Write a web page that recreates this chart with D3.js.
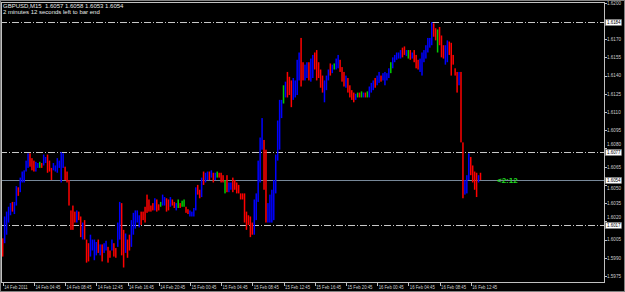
<!DOCTYPE html>
<html><head><meta charset="utf-8">
<script src="https://cdn.jsdelivr.net/npm/d3@7/dist/d3.min.js"></script>
<style>html,body{margin:0;padding:0;background:#000;}svg{display:block;}</style>
</head><body><svg id="c" width="625" height="292"></svg>
<script>
const symbolTitle = "GBPUSD,M15  1.6057 1.6058 1.6053 1.6054";
const timerTitle = "2 minutes 12 seconds left to bar end";
const timerLabel = "<2:12";
const highs = [
1.6006,1.6024,1.6028,1.6032,1.6035,1.6036,1.6036,1.6049,1.6048,1.6056,
1.6061,1.6062,1.6070,1.6076,1.6076,1.6072,1.6070,1.6069,1.6068,1.6069,
1.6068,1.6075,1.6073,1.6075,1.6070,1.6064,1.6068,1.6066,1.6072,1.6070,
1.6077,1.6076,1.6065,1.6061,1.6054,1.6029,1.6033,1.6028,1.6029,1.6028,
1.6024,1.6019,1.6021,1.6005,1.6002,1.6009,1.6005,1.6005,1.6003,1.6005,
1.6001,1.6001,1.6002,1.6004,1.5999,1.5996,1.6005,1.6002,1.5998,1.6019,
1.6036,1.6035,1.6013,1.6010,1.6005,1.6009,1.6021,1.6027,1.6029,1.6029,
1.6025,1.6028,1.6028,1.6032,1.6042,1.6038,1.6033,1.6035,1.6039,1.6038,
1.6034,1.6036,1.6042,1.6040,1.6039,1.6038,1.6040,1.6038,1.6036,1.6035,
1.6038,1.6035,1.6037,1.6038,1.6032,1.6030,1.6029,1.6028,1.6031,1.6048,
1.6050,1.6046,1.6056,1.6061,1.6060,1.6061,1.6061,1.6062,1.6060,1.6060,
1.6061,1.6060,1.6060,1.6058,1.6054,1.6058,1.6052,1.6052,1.6056,1.6054,
1.6052,1.6050,1.6043,1.6043,1.6043,1.6028,1.6025,1.6024,1.6019,1.6038,
1.6043,1.6070,1.6089,1.6105,1.6087,1.6079,1.6035,1.6042,1.6046,1.6054,
1.6075,1.6103,1.6120,1.6120,1.6132,1.6135,1.6143,1.6139,1.6136,1.6138,
1.6136,1.6153,1.6159,1.6171,1.6151,1.6149,1.6151,1.6151,1.6154,1.6157,
1.6159,1.6161,1.6151,1.6145,1.6140,1.6136,1.6140,1.6145,1.6150,1.6149,
1.6150,1.6154,1.6157,1.6153,1.6147,1.6143,1.6140,1.6138,1.6132,1.6128,
1.6126,1.6125,1.6126,1.6126,1.6127,1.6126,1.6126,1.6127,1.6131,1.6134,
1.6136,1.6138,1.6140,1.6143,1.6140,1.6142,1.6143,1.6142,1.6146,1.6151,
1.6155,1.6157,1.6159,1.6159,1.6161,1.6163,1.6164,1.6161,1.6161,1.6161,
1.6159,1.6161,1.6157,1.6153,1.6154,1.6159,1.6161,1.6165,1.6171,1.6171,
1.6184,1.6183,1.6179,1.6178,1.6180,1.6173,1.6165,1.6165,1.6169,1.6168,
1.6167,1.6157,1.6146,1.6143,1.6143,1.6143,1.6085,1.6054,1.6058,1.6076,
1.6073,1.6066,1.6061,1.6060,1.6058,1.6060];
const lows = [
1.5991,1.6002,1.6009,1.6019,1.6025,1.6028,1.6026,1.6033,1.6041,1.6044,
1.6052,1.6052,1.6061,1.6064,1.6065,1.6062,1.6061,1.6061,1.6064,1.6064,
1.6064,1.6066,1.6068,1.6060,1.6061,1.6054,1.6062,1.6061,1.6060,1.6064,
1.6052,1.6064,1.6054,1.6052,1.6033,1.6013,1.6013,1.6019,1.6019,1.6021,
1.6007,1.6005,1.6005,1.5986,1.5987,1.5991,1.5996,1.5988,1.5992,1.5994,
1.5992,1.5987,1.5994,1.5996,1.5986,1.5990,1.5996,1.5991,1.5990,1.5999,
1.6005,1.5992,1.5982,1.5994,1.5990,1.5996,1.5999,1.6009,1.6014,1.6019,
1.6015,1.6017,1.6021,1.6019,1.6027,1.6028,1.6028,1.6029,1.6029,1.6028,
1.6029,1.6032,1.6033,1.6033,1.6028,1.6029,1.6032,1.6033,1.6031,1.6029,
1.6031,1.6031,1.6032,1.6032,1.6027,1.6026,1.6024,1.6024,1.6024,1.6029,
1.6042,1.6039,1.6040,1.6050,1.6052,1.6054,1.6054,1.6056,1.6052,1.6054,
1.6056,1.6056,1.6052,1.6052,1.6043,1.6044,1.6044,1.6046,1.6044,1.6046,
1.6043,1.6043,1.6038,1.6038,1.6019,1.6013,1.6017,1.6007,1.6009,1.6009,
1.6021,1.6036,1.6052,1.6079,1.6046,1.6019,1.6019,1.6019,1.6019,1.6021,
1.6043,1.6070,1.6079,1.6105,1.6117,1.6122,1.6122,1.6124,1.6114,1.6120,
1.6122,1.6124,1.6136,1.6131,1.6136,1.6136,1.6138,1.6136,1.6135,1.6138,
1.6145,1.6136,1.6138,1.6130,1.6126,1.6118,1.6128,1.6136,1.6140,1.6142,
1.6145,1.6145,1.6146,1.6143,1.6135,1.6131,1.6130,1.6126,1.6122,1.6120,
1.6118,1.6120,1.6122,1.6122,1.6122,1.6122,1.6122,1.6122,1.6122,1.6126,
1.6128,1.6130,1.6132,1.6134,1.6135,1.6136,1.6132,1.6136,1.6138,1.6142,
1.6146,1.6151,1.6153,1.6154,1.6154,1.6155,1.6157,1.6156,1.6154,1.6153,
1.6154,1.6151,1.6146,1.6145,1.6143,1.6140,1.6151,1.6154,1.6159,1.6163,
1.6165,1.6172,1.6169,1.6159,1.6165,1.6155,1.6154,1.6149,1.6151,1.6157,
1.6140,1.6149,1.6140,1.6126,1.6132,1.6085,1.6039,1.6042,1.6043,1.6054,
1.6058,1.6052,1.6046,1.6040,1.6052,1.6054];
// u = up bar, d = down bar, n = unchanged (10 bars per group)
const dirs = ("duuuuduudu uuuuddduun duuddduuuu uuddddddud duddduuuud uduudduddu uddudduuuu udddddddud dnuudduddu ndnndduuuu dduduududu ndddnduudd dddddddddu uuuudduuuu uuuunudddu uuudduuduu ddddduuudu nuuddduddd dundnudnuu uduuduuuun uuuuuddund uddduuuuuu uddnddduud ddddudduuu ddddud").replace(/ /g,"").split("");
const timeLabels = ["14 Feb 2011","14 Feb 04:45","14 Feb 08:45","14 Feb 12:45","14 Feb 16:45","14 Feb 20:45","15 Feb 00:45","15 Feb 04:45","15 Feb 08:45","15 Feb 12:45","15 Feb 16:45","15 Feb 20:45","16 Feb 00:45","16 Feb 04:45","16 Feb 08:45","16 Feb 12:45"];
const barsPerLabel = 16;
const priceTicks = [1.5975,1.5990,1.6005,1.6020,1.6035,1.6050,1.6065,1.6080,1.6095,1.6110,1.6125,1.6140,1.6155,1.6170,1.6200];
const levelLines = [1.6184,1.6077,1.6017];
const bid = 1.6054;

const svg = d3.select("#c");
const W = 625, H = 292, plotR = 604, plotB = 282, plotT = 2;
const frameCol = "#c0c0c0";
const x = d3.scaleLinear().domain([0, 245]).range([2.7, 480.5]);
const y = d3.scaleLinear().domain([1.5975, 1.6200]).range([276, 2.7]);
const dirColor = {u: "#0000ff", d: "#ff0000", n: "#00cc00"};
const font = "Liberation Sans, Arial, sans-serif";

function squeeze(sel, factor) {
  sel.each(function() {
    const len = this.getComputedTextLength();
    d3.select(this).attr("textLength", (len * factor).toFixed(2)).attr("lengthAdjust", "spacingAndGlyphs");
  });
}

svg.append("rect").attr("x",0).attr("y",0).attr("width",W).attr("height",H).attr("fill","#000");

// level lines (dash-dot)
svg.selectAll("line.lvl").data(levelLines).join("line").attr("class","lvl")
  .attr("x1",0).attr("x2",plotR).attr("y1",d=>Math.round(y(d))+0.5).attr("y2",d=>Math.round(y(d))+0.5)
  .attr("stroke","#c8c8c8").attr("stroke-width",1).attr("stroke-dasharray","7,2,1,2");
// bid line
svg.append("line").attr("x1",0).attr("x2",plotR).attr("y1",Math.round(y(bid))+0.5).attr("y2",Math.round(y(bid))+0.5)
  .attr("stroke","#778899").attr("stroke-width",1);

// bars
const bars = highs.map((h,i)=>({i, h, l: lows[i], d: dirs[i]}));
svg.append("g").selectAll("rect").data(bars).join("rect")
  .attr("x", d=>x(d.i)-0.75).attr("width",1.5)
  .attr("y", d=>y(d.h)).attr("height", d=>Math.max(1, y(d.l)-y(d.h)))
  .attr("fill", d=>dirColor[d.d]);

// frame
svg.append("rect").attr("x",0.5).attr("y",0.5).attr("width",W-1).attr("height",H-1).attr("fill","none").attr("stroke","#808080");
svg.append("line").attr("x1",1.5).attr("x2",1.5).attr("y1",plotT).attr("y2",plotB).attr("stroke",frameCol);
svg.append("line").attr("x1",1).attr("x2",plotR).attr("y1",plotT+0.5).attr("y2",plotT+0.5).attr("stroke",frameCol);
svg.append("line").attr("x1",plotR+0.5).attr("x2",plotR+0.5).attr("y1",plotT).attr("y2",plotB+0.5).attr("stroke",frameCol);
svg.append("line").attr("x1",1).attr("x2",plotR+1).attr("y1",plotB+0.5).attr("y2",plotB+0.5).attr("stroke",frameCol);

// right axis
const hl = [...levelLines, bid];
const ya = svg.append("g");
ya.selectAll("line").data(priceTicks).join("line")
  .attr("x1",plotR).attr("x2",plotR+3).attr("y1",d=>Math.round(y(d))+0.5).attr("y2",d=>Math.round(y(d))+0.5).attr("stroke",frameCol);
// nudge a tick label slightly away from a nearby highlighted label
function labelY(d) {
  let yy = y(d);
  for (const h of hl) {
    const hy = Math.round(y(h));
    const dy = yy - hy;
    if (Math.abs(dy) < 8 && Math.abs(dy) > 3) yy = hy + Math.sign(dy) * 8;
  }
  return yy;
}
const tickText = ya.selectAll("text").data(priceTicks).join("text")
  .attr("x",607).attr("y",d=>labelY(d)+1.9).attr("font-family",font).attr("font-size",5.4).attr("fill","#d0d0d0")
  .text(d=>d.toFixed(4));
squeeze(tickText, 0.85);
// highlighted price labels
const hg = svg.append("g");
hg.selectAll("rect").data(hl).join("rect")
  .attr("x",605.5).attr("y",d=>Math.round(y(d))-2.5).attr("width",16).attr("height",6)
  .attr("fill","#ffffff").attr("stroke","#808080").attr("stroke-width",0.5);
const hlText = hg.selectAll("text").data(hl).join("text")
  .attr("x",607).attr("y",d=>Math.round(y(d))+2.3).attr("font-family",font).attr("font-size",5.2).attr("fill","#000")
  .text(d=>d.toFixed(4));
squeeze(hlText, 0.85);

// bottom axis
const xa = svg.append("g");
xa.selectAll("line").data(timeLabels).join("line")
  .attr("x1",(d,k)=>Math.round(x(k*barsPerLabel))+0.5).attr("x2",(d,k)=>Math.round(x(k*barsPerLabel))+0.5)
  .attr("y1",plotB).attr("y2",plotB+4).attr("stroke",frameCol);
const timeText = xa.selectAll("text").data(timeLabels).join("text")
  .attr("x",(d,k)=>x(k*barsPerLabel)+1.5).attr("y",288.5).attr("font-family",font).attr("font-size",5.3).attr("fill","#d0d0d0")
  .text(d=>d);
squeeze(timeText, 0.8);

// titles
svg.append("text").attr("x",3).attr("y",7.5).attr("font-family",font).attr("font-size",6.0).attr("fill","#e8e8e8")
  .attr("xml:space","preserve").style("white-space","pre").text(symbolTitle);
svg.append("text").attr("x",3).attr("y",13.5).attr("font-family",font).attr("font-size",6.0).attr("fill","#e8e8e8").text(timerTitle);

// timer label next to last bar
svg.append("text").attr("x",x(245)+16.5).attr("y",y(bid)+2.5).attr("font-family",font).attr("font-size",8).attr("font-weight","bold")
  .attr("fill","#22dd22").text(timerLabel);
</script></body></html>
